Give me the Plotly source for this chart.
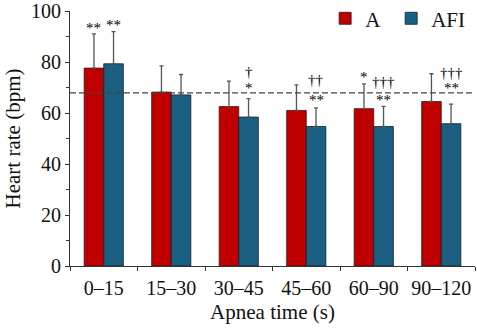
import plotly.graph_objects as go

categories = ["0–15", "15–30", "30–45", "45–60", "60–90", "90–120"]
a_values = [77.6, 68.2, 62.5, 61.0, 61.7, 64.5]
a_sd = [13.4, 10.3, 10.0, 10.0, 9.7, 10.9]
afi_values = [79.3, 67.1, 58.4, 54.7, 54.7, 55.8]
afi_sd = [12.6, 8.0, 7.2, 7.3, 7.9, 7.7]
baseline = 67.9

# significance marks: (category, series, text, y)
marks_cat = ["0–15", "0–15", "30–45", "30–45", "45–60", "45–60", "60–90", "60–90", "60–90", "90–120", "90–120"]
marks_series = ["A", "AFI", "AFI", "AFI", "AFI", "AFI", "A", "AFI", "AFI", "AFI", "AFI"]
marks_text = ["**", "**", "†", "*", "††", "**", "*", "†††", "**", "†††", "**"]
marks_y = [93.5, 94.5, 76.0, 70.0, 73.0, 65.0, 74.0, 72.0, 65.0, 75.5, 70.0]

RED = "#C00000"
BLUE = "#1B5F82"
FONT = "Liberation Serif"

fig = go.Figure()
fig.add_trace(go.Bar(
    name="A", x=categories, y=a_values, legend="legend",
    marker=dict(color=RED, line=dict(color="#3a1010", width=0.8)),
    error_y=dict(type="data", symmetric=False, array=a_sd, arrayminus=[0]*len(a_sd),
                 color="#555555", thickness=1.3, width=2),
))
fig.add_trace(go.Bar(
    name="AFI", x=categories, y=afi_values, legend="legend2",
    marker=dict(color=BLUE, line=dict(color="#10202a", width=0.8)),
    error_y=dict(type="data", symmetric=False, array=afi_sd, arrayminus=[0]*len(afi_sd),
                 color="#555555", thickness=1.3, width=2),
))

fig.add_shape(type="line", xref="paper", yref="y", x0=0, x1=1, y0=baseline, y1=baseline,
              line=dict(color="#444444", width=1.3, dash="6px,3px"), layer="above")

for c, s, t, yv in zip(marks_cat, marks_series, marks_text, marks_y):
    fig.add_annotation(x=c, y=yv, xref="x", yref="y", text=t, showarrow=False,
                       xshift=-10 if s == "A" else 10,
                       font=dict(family=FONT, size=15, color="black"))

legend_style = dict(orientation="h", y=0.97, xanchor="left", yanchor="middle",
                    font=dict(family=FONT, size=21), bgcolor="rgba(0,0,0,0)",
                    itemwidth=30)

fig.update_layout(
    width=477, height=328,
    margin=dict(l=70, r=2, t=11, b=62, autoexpand=False),
    plot_bgcolor="white", paper_bgcolor="white",
    barmode="group", bargap=0.42, bargroupgap=0,
    font=dict(family=FONT, size=20, color="#111111"),
    showlegend=True,
    legend=dict(x=0.63, **legend_style),
    legend2=dict(x=0.793, **legend_style),
    xaxis=dict(showline=True, linecolor="#333333", linewidth=1, ticks="outside",
               tickson="boundaries", ticklen=4, tickcolor="#333333", tickangle=0,
               automargin=False, ticklabelstandoff=4,
               title=dict(text="Apnea time (s)", font=dict(family=FONT, size=21), standoff=6),
               tickfont=dict(family=FONT, size=20)),
    yaxis=dict(range=[0, 100], showline=True, linecolor="#333333", linewidth=1,
               ticks="outside", ticklen=4, tickcolor="#333333", dtick=20,
               minor=dict(dtick=10, ticks="outside", ticklen=3, tickcolor="#333333"),
               showgrid=False, zeroline=False, automargin=False,
               title=dict(text="Heart rate (bpm)", font=dict(family=FONT, size=21), standoff=4),
               tickfont=dict(family=FONT, size=20)),
)

fig.write_html("out.html", config={"displayModeBar": False},
               post_script="document.body.style.margin='0';")
